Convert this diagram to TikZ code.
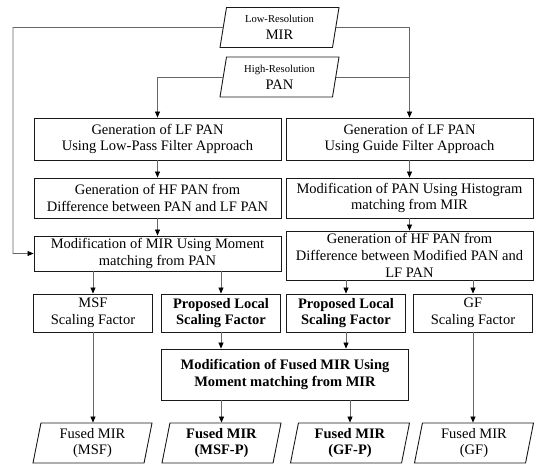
\documentclass[tikz,border=0pt]{standalone}
\usepackage{fontspec}
\setmainfont{Liberation Serif}
\usetikzlibrary{arrows.meta,shapes.geometric}

\begin{document}
\begin{tikzpicture}[
  x=1pt, y=-1pt,
  every node/.style={font=\fontsize{14.5}{16.7}\selectfont},
  stepbox/.style={rectangle, draw=black!90, line width=0.9pt, align=center,
                  inner sep=1pt, minimum width=247pt},
  smallbox/.style={rectangle, draw=black!90, line width=0.9pt, align=center,
                   inner sep=1pt, minimum width=119pt, minimum height=38pt},
  data/.style={trapezium, trapezium left angle=76, trapezium right angle=104,
               trapezium stretches body, draw=black!90, line width=0.9pt,
               align=center, inner sep=1pt, minimum width=119pt, minimum height=40pt},
  flow/.style={-{Triangle[length=6pt,width=5pt,color=black]}, line width=0.7pt, black!60},
  plain/.style={line width=0.7pt, black!60},
]
\useasboundingbox (0,0) rectangle (550,471);

% ---------------------------------------------------------------- inputs --
\node[data] (mir) at (279.5,27.5) {{\fontsize{10.6}{12}\selectfont Low-Resolution}\\MIR};
\node[data] (pan) at (279.5,77)   {{\fontsize{10.6}{12}\selectfont High-Resolution}\\PAN};

% ------------------------------------------------------------ left branch --
\node[stepbox, minimum height=42pt] (lpf) at (157.5,139)
  {Generation of LF PAN\\Using Low-Pass Filter Approach};
\node[stepbox, minimum height=40pt] (hfl) at (157.5,198)
  {Generation of HF PAN from\\Difference between PAN and LF PAN};
\node[stepbox, minimum height=35pt] (mom) at (157.5,253.5)
  {Modification of MIR Using Moment\\matching from PAN};

% ----------------------------------------------------------- right branch --
\node[stepbox, minimum height=42pt] (gdf) at (409.5,139)
  {Generation of LF PAN\\Using Guide Filter Approach};
\node[stepbox, minimum height=40pt] (hist) at (409.5,198)
  {Modification of PAN Using Histogram\\matching from MIR};
\node[stepbox, minimum height=49pt] (hfr) at (409.5,255.5)
  {Generation of HF PAN from\\Difference between Modified PAN and\\LF PAN};

% -------------------------------------------------------- scaling factors --
\node[smallbox] (msf)   at (93,313)  {MSF\\Scaling Factor};
\node[smallbox] (prop1) at (221,313) {\textbf{Proposed Local}\\\textbf{Scaling Factor}};
\node[smallbox] (prop2) at (346,313) {\textbf{Proposed Local}\\\textbf{Scaling Factor}};
\node[smallbox] (gf)    at (473,313) {GF\\Scaling Factor};

\node[stepbox, minimum height=51pt] (mod) at (285,374.5)
  {\textbf{Modification of Fused MIR Using}\\\textbf{Moment matching from MIR}};

% ---------------------------------------------------------------- outputs --
\node[data] (fmsf)  at (92.5,443)  {Fused MIR\\(MSF)};
\node[data] (fmsfp) at (221.5,443) {\textbf{Fused MIR}\\\textbf{(MSF-P)}};
\node[data] (fgfp)  at (350,443)   {\textbf{Fused MIR}\\\textbf{(GF-P)}};
\node[data] (fgf)   at (474,443)   {Fused MIR\\(GF)};

% ------------------------------------------------------------ input lines --
\coordinate (lcorner) at (13,27.5);
\draw[flow] (mir.west) -- (lcorner) |- (mom.west);
\draw[flow] (mir.east) -| (gdf.north);
\draw[flow] (pan.west) -| (lpf.north);
\draw[plain] (pan.east) -- (pan.east -| gdf.north);

% -------------------------------------------------------------- main flow --
\draw[flow] (lpf.south) -- (hfl.north);
\draw[flow] (hfl.south) -- (mom.north);
\draw[flow] (gdf.south) -- (hist.north);
\draw[flow] (hist.south) -- (hfr.north);

\draw[flow] (mom.south -| msf.north) -- (msf.north);
\draw[flow] (mom.south -| prop1.north) -- (prop1.north);
\draw[flow] (hfr.south -| prop2.north) -- (prop2.north);
\draw[flow] (hfr.south -| gf.north) -- (gf.north);

\draw[flow] (prop1.south) -- (prop1.south |- mod.north);
\draw[flow] (prop2.south) -- (prop2.south |- mod.north);

\draw[flow] (msf.south) -- (msf.south |- fmsf.north);
\draw[flow] (mod.south -| fmsfp.north) -- (fmsfp.north);
\draw[flow] (mod.south -| fgfp.north) -- (fgfp.north);
\draw[flow] (gf.south) -- (gf.south |- fgf.north);

\end{tikzpicture}
\end{document}
